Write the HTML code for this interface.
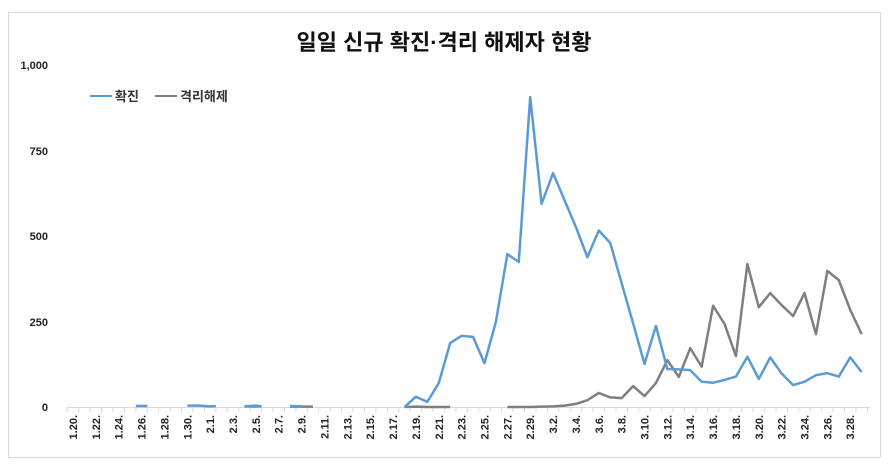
<!DOCTYPE html>
<html><head><meta charset="utf-8"><style>
body{margin:0;background:#fff;}
svg{display:block;font-family:"Liberation Sans","Noto Sans CJK KR",sans-serif;}
</style></head><body>
<svg width="889" height="472" viewBox="0 0 889 472">
<rect x="8.5" y="12.5" width="872" height="445" fill="#fff" stroke="#d9d9d9"/>
<text x="444" y="50" text-anchor="middle" font-size="22" font-weight="bold" fill="#111">일일 신규 확진·격리 해제자 현황</text>
<g font-size="11" font-weight="bold" fill="#222" text-anchor="end">
<text x="48" y="69">1,000</text><text x="48" y="155">750</text><text x="48" y="240">500</text><text x="48" y="326">250</text><text x="48" y="411">0</text>
</g>
<line x1="90" y1="96" x2="112" y2="96" stroke="#5b9bd5" stroke-width="2"/>
<text x="115" y="101" font-size="13" font-weight="bold" fill="#333">확진</text>
<line x1="155" y1="96" x2="177" y2="96" stroke="#7f7f7f" stroke-width="2"/>
<text x="180" y="101" font-size="13" font-weight="bold" fill="#333">격리해제</text>
<line x1="67" y1="407.5" x2="870" y2="407.5" stroke="#d9d9d9"/>
<g id="ticks" stroke="#d9d9d9"></g>
<g id="labels" font-size="11" font-weight="bold" fill="#222"></g>
<g transform="translate(73,407) scale(11.43,-0.342)" fill="none" stroke-linejoin="round">
<g stroke="#7f7f7f" stroke-width="2.5" vector-effect="non-scaling-stroke">
<polyline vector-effect="non-scaling-stroke" points="15,2 16,2 16.5,2"/>
<polyline vector-effect="non-scaling-stroke" points="19,1 20,1 21,1"/>
<polyline vector-effect="non-scaling-stroke" points="29,0 30,1 31,0 32,0 33,0"/>
<polyline id="g" vector-effect="non-scaling-stroke" points=""/>
</g>
<g stroke="#5b9bd5" stroke-width="2.5">
<polyline vector-effect="non-scaling-stroke" points="5.5,3 6.5,3"/>
<polyline vector-effect="non-scaling-stroke" points="10,4 11,4 12,2 12.5,3"/>
<polyline vector-effect="non-scaling-stroke" points="15,2 16,4 16.5,2"/>
<polyline vector-effect="non-scaling-stroke" points="19,3 20,2"/>
<polyline id="b" vector-effect="non-scaling-stroke" points=""/>
</g>
</g>
</svg>
<script>
var b=[0,30,15,70,187,208,205,128,249,447,424,906,594,684,605,526,438,516,480,362,245,126,237,111,110,108,74,71,79,89,147,82,145,98,64,74,93,99,89,145,102];
var g=[0,0,0,1,2,4,9,20,41,28,26,61,32,70,137,88,172,118,296,243,149,418,292,333,298,266,333,213,398,371,284,213];
document.getElementById('b').setAttribute('points',b.map(function(v,i){return (29+i)+','+v}).join(' '));
document.getElementById('g').setAttribute('points',g.map(function(v,i){return (38+i)+','+v}).join(' '));
var days=[];for(var d=20;d<=31;d++)days.push('1.'+d+'.');for(d=1;d<=29;d++)days.push('2.'+d+'.');for(d=1;d<=29;d++)days.push('3.'+d+'.');
var t='',l='';
for(var i=0;i<=70;i++){var x=67.3+i*11.43;t+='<line x1="'+x+'" y1="407" x2="'+x+'" y2="412"/>';}
for(i=0;i<70;i+=2){var x=73+i*11.43+4;l+='<text transform="translate('+x+',415) rotate(-90)" text-anchor="end">'+days[i]+'</text>';}
document.getElementById('ticks').innerHTML=t;document.getElementById('labels').innerHTML=l;
</script>
</body></html>
